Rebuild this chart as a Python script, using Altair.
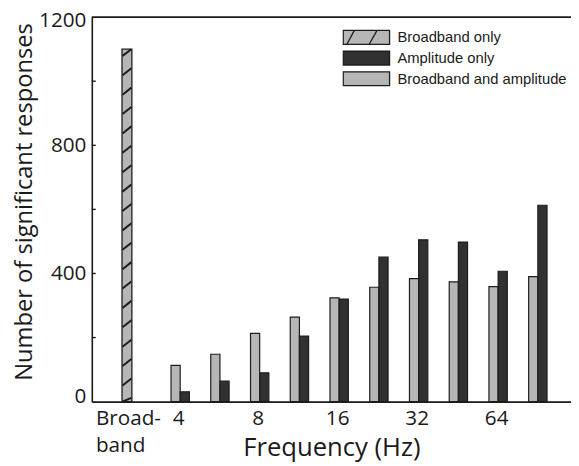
import json
import altair as alt
import pandas as pd

# ---------------- data ----------------
categories = ["4", "5.7", "8", "11", "16", "23", "32", "45", "64", "91"]
both_values = [113, 148, 213, 264, 324, 357, 384, 374, 359, 390]   # Broadband and amplitude
amp_values = [31, 64, 90, 205, 320, 451, 505, 498, 407, 613]       # Amplitude only
broadband_value = 1100                                            # Broadband only
series_names = ["Broadband only", "Amplitude only", "Broadband and amplitude"]
x_tick_cats = ["Broadband", "4", "8", "16", "32", "64"]
x_tick_texts = [["Broad-", "band"], "4", "8", "16", "32", "64"]
y_label_values = [0, 400, 800, 1200]
y_tick_values = [200, 400, 600, 800, 1000]

# ---------------- layout / style ----------------
W, H = 486, 390
BB_POS = -1.34
X_DOMAIN = [-2.1, 9.71]
LIGHT, DARK, EDGE, TEXT = "#b6b6b6", "#313131", "#1c1c1c", "#1a1a1a"
AX_FONT = "Open Sans"

pos_of = {c: i for i, c in enumerate(categories)}
pos_of["Broadband"] = BB_POS
tick_pos = [pos_of[c] for c in x_tick_cats]

label_expr = "''"
for p, t in reversed(list(zip(tick_pos, x_tick_texts))):
    label_expr = f"abs(datum.value - ({p})) < 0.01 ? {json.dumps(t)} : ({label_expr})"

light_df = pd.DataFrame({"pos": [pos_of[c] for c in categories], "value": both_values,
                         "series": series_names[2]})
dark_df = pd.DataFrame({"pos": [pos_of[c] for c in categories], "value": amp_values,
                        "series": series_names[1]})
bb_df = pd.DataFrame({"pos": [BB_POS], "value": [broadband_value], "series": [series_names[0]]})

# hatch segments for the broadband bar (decoration derived from its value)
step, half = 60.5, 11
centers = []
c = broadband_value - 10
while c > -half:
    centers.append(c)
    c -= step
hatch_df = pd.DataFrame({
    "pos": [BB_POS] * len(centers),
    "value": [max(0, v - half) for v in centers],
    "value2": [min(broadband_value, v + half) for v in centers],
})

x_axis = alt.Axis(
    values=tick_pos, labelExpr=label_expr, ticks=False, grid=False,
    domainColor=EDGE, domainWidth=1.6,
    labelFont=AX_FONT, labelFontSize=21, labelColor=TEXT, labelPadding=6,
    labelLineHeight=28, labelOverlap=False, labelFlush=False, labelBound=False,
    labelAlign={"condition": {"test": "datum.value < -1", "value": "left"}, "value": "center"},
    labelOffset={"condition": {"test": "datum.value < -1", "value": -32}, "value": -2},
    title="Frequency (Hz)", titleFont=AX_FONT, titleFontSize=26, titleFontWeight="normal",
    titleColor=TEXT, titleBaseline="alphabetic", titleY=55,
)
y_axis = alt.Axis(
    values=y_label_values, format="d", ticks=False, grid=False,
    domainColor=EDGE, domainWidth=1.6,
    labelFont=AX_FONT, labelFontSize=21, labelColor=TEXT, labelPadding=6,
    labelOffset={"condition": [{"test": "datum.value >= 1200", "value": 4},
                               {"test": "datum.value <= 0", "value": -5}], "value": 0},
    title="Number of significant responses", titleFont=AX_FONT, titleFontSize=24,
    titleFontWeight="normal", titleColor=TEXT, titlePadding=2, titleY=187,
)

X = alt.X("pos:Q", scale=alt.Scale(domain=X_DOMAIN, nice=False, zero=False), axis=x_axis)
Y = alt.Y("value:Q", scale=alt.Scale(domain=[0, 1200], nice=False), axis=y_axis)

RECT = "M-1,-0.3H1V0.3H-1Z"
HATCH = RECT + " M-0.84,0.3L-0.52,-0.3 M0.12,0.3L0.46,-0.3"
legend = alt.Legend(
    orient="none", legendX=254, legendY=12, title=None, padding=0,
    symbolSize=2209, symbolStrokeWidth=1.3, symbolStrokeColor=EDGE, symbolOpacity=1,
    labelFont="Liberation Sans", labelFontSize=15, labelColor=TEXT, labelOffset=7,
    labelLimit=400, clipHeight=17, rowPadding=4,
)
COLOR = alt.Color("series:N", scale=alt.Scale(domain=series_names, range=[LIGHT, DARK, LIGHT]),
                  legend=legend)
SHAPE = alt.Shape("series:N", scale=alt.Scale(domain=series_names, range=[HATCH, RECT, RECT]),
                  legend=legend)
STROKE = alt.Stroke("series:N", scale=alt.Scale(domain=series_names, range=[EDGE, EDGE, EDGE]),
                    legend=legend)

bb = alt.Chart(bb_df).mark_bar(width=10, strokeWidth=1.3).encode(
    x=X, y=Y, color=COLOR, stroke=STROKE)
light = alt.Chart(light_df).mark_bar(width=9.3, xOffset=-4.65, strokeWidth=1.2).encode(
    x=X, y=Y, color=COLOR, stroke=STROKE)
dark = alt.Chart(dark_df).mark_bar(width=9.3, xOffset=4.65, strokeWidth=1.2).encode(
    x=X, y=Y, color=COLOR, stroke=STROKE)
hatch = alt.Chart(hatch_df).mark_rule(xOffset=-4.5, x2Offset=4.5, color=EDGE, strokeWidth=2).encode(
    x=X, x2=alt.X2("pos"), y=Y, y2=alt.Y2("value2"))
top_border = alt.Chart(pd.DataFrame({"value": [1200]})).mark_rule(color=EDGE, strokeWidth=1.6).encode(
    y=Y, x=alt.value(0), x2=alt.value(W))
yticks = alt.Chart(pd.DataFrame({"value": y_tick_values})).mark_rule(color=EDGE, strokeWidth=1.4).encode(
    y=Y, x=alt.value(0), x2=alt.value(4))
# legend carrier: points kept outside the visible x-range (clipped), only feeding the legend
legend_carrier = alt.Chart(pd.DataFrame({"pos": [50, 50, 50], "value": [0, 0, 0],
                                         "series": series_names})).mark_point(
    filled=True, clip=True, strokeWidth=1.3).encode(
    x=X, y=Y, color=COLOR, shape=SHAPE, stroke=STROKE)

chart = alt.layer(bb, light, dark, hatch, top_border, yticks, legend_carrier).properties(
    width=W, height=H,
    autosize=alt.AutoSizeParams(type="none"),
    padding={"left": 85, "top": 6, "right": 0, "bottom": 62},
).configure_view(stroke=None).configure(background="white")

chart.save("out.html", embed_options={"renderer": "svg", "actions": False})
